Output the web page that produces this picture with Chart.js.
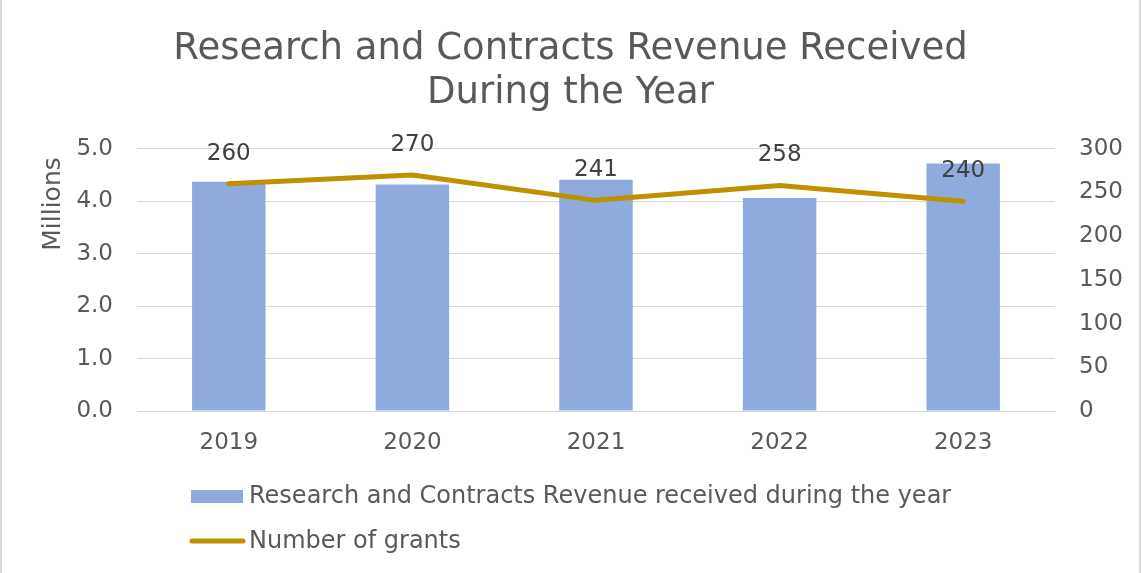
<!DOCTYPE html>
<html>
<head>
<meta charset="utf-8">
<script src="https://cdn.jsdelivr.net/npm/chart.js@4.4.0/dist/chart.umd.min.js"></script>
<style>
  html, body { margin: 0; padding: 0; background: #fff; }
  .frame { position: relative; width: 1141px; height: 573px; }
  .frame::after {
    content: '';
    position: absolute;
    inset: 0;
    border-left: 2px solid #d9d9d9;
    border-right: 2px solid #d9d9d9;
    pointer-events: none;
  }
</style>
</head>
<body>
<div class="frame"><canvas id="revenueChart" width="1141" height="573"></canvas></div>
<script>
const years = ['2019', '2020', '2021', '2022', '2023'];
const revenueMillions = [4.37, 4.32, 4.41, 4.06, 4.72];
const grantCounts = [260, 270, 241, 258, 240];
const titleLines = ['Research and Contracts Revenue Received', 'During the Year'];

const FONT = '"DejaVu Sans", Verdana, sans-serif';
const GREY = '#595959';
const BAR_BLUE = '#8faadc';
const GOLD = '#bf9000';

// value labels above the grant line (dataset 0)
const grantLabels = {
  id: 'grantLabels',
  afterDatasetsDraw(chart) {
    const meta = chart.getDatasetMeta(0);
    const ctx = chart.ctx;
    ctx.save();
    ctx.font = '23px ' + FONT;
    ctx.fillStyle = '#404040';
    ctx.textAlign = 'center';
    ctx.textBaseline = 'middle';
    meta.data.forEach((pt, i) => {
      ctx.fillText(String(grantCounts[i]), pt.x, pt.y - 30);
    });
    ctx.restore();
  }
};

// axis title + vertical legend like the Excel original
const extras = {
  id: 'extras',
  afterDraw(chart) {
    const ctx = chart.ctx;
    const ds = chart.data.datasets;
    ctx.save();
    ctx.fillStyle = GREY;
    ctx.textBaseline = 'middle';

    ctx.save();
    ctx.font = '25px ' + FONT;
    ctx.translate(53, 204);
    ctx.rotate(-Math.PI / 2);
    ctx.textAlign = 'center';
    ctx.fillText('Millions', 0, 0);
    ctx.restore();

    ctx.font = '24px ' + FONT;
    ctx.textAlign = 'left';
    ctx.fillStyle = BAR_BLUE;
    ctx.fillRect(191, 490, 52, 13);
    ctx.fillStyle = GREY;
    ctx.fillText(ds[1].label, 249, 497);

    ctx.strokeStyle = GOLD;
    ctx.lineWidth = 5;
    ctx.lineCap = 'round';
    ctx.beginPath();
    ctx.moveTo(192, 541);
    ctx.lineTo(243, 541);
    ctx.stroke();
    ctx.fillText(ds[0].label, 249, 542);
    ctx.restore();
  }
};

new Chart(document.getElementById('revenueChart'), {
  data: {
    labels: years,
    datasets: [
      {
        type: 'line',
        label: 'Number of grants',
        data: grantCounts,
        yAxisID: 'y1',
        borderColor: GOLD,
        borderWidth: 5,
        borderCapStyle: 'round',
        borderJoinStyle: 'round',
        pointRadius: 0,
        tension: 0,
        order: 0
      },
      {
        type: 'bar',
        label: 'Research and Contracts Revenue received during the year',
        data: revenueMillions,
        yAxisID: 'y',
        backgroundColor: BAR_BLUE,
        categoryPercentage: 1,
        barPercentage: 0.4,
        order: 1
      }
    ]
  },
  options: {
    responsive: false,
    animation: false,
    layout: { padding: 0 },
    plugins: {
      legend: { display: false },
      tooltip: { enabled: false },
      title: {
        display: true,
        text: titleLines,
        color: GREY,
        font: { family: FONT, size: 37, weight: 'normal', lineHeight: 1.2 },
        padding: { top: 27, bottom: 33 }
      }
    },
    scales: {
      x: {
        grid: { display: false, drawTicks: false },
        border: { color: '#d9d9d9', width: 1 },
        ticks: { color: GREY, font: { family: FONT, size: 23 }, padding: 18 },
        afterFit: s => { s.height = 162; }
      },
      y: {
        position: 'left',
        min: 0,
        max: 5,
        grid: { color: '#d9d9d9', lineWidth: 1, drawTicks: false },
        border: { display: false },
        ticks: {
          stepSize: 1,
          color: GREY,
          font: { family: FONT, size: 23 },
          padding: 24,
          callback: v => Number(v).toFixed(1)
        },
        afterFit: s => { s.width = 137; }
      },
      y1: {
        position: 'right',
        min: 0,
        max: 300,
        grid: { display: false, drawTicks: false },
        border: { display: false },
        ticks: { stepSize: 50, color: GREY, font: { family: FONT, size: 23 }, padding: 24 },
        afterFit: s => { s.width = 86; }
      }
    }
  },
  plugins: [grantLabels, extras]
});
</script>
</body>
</html>
